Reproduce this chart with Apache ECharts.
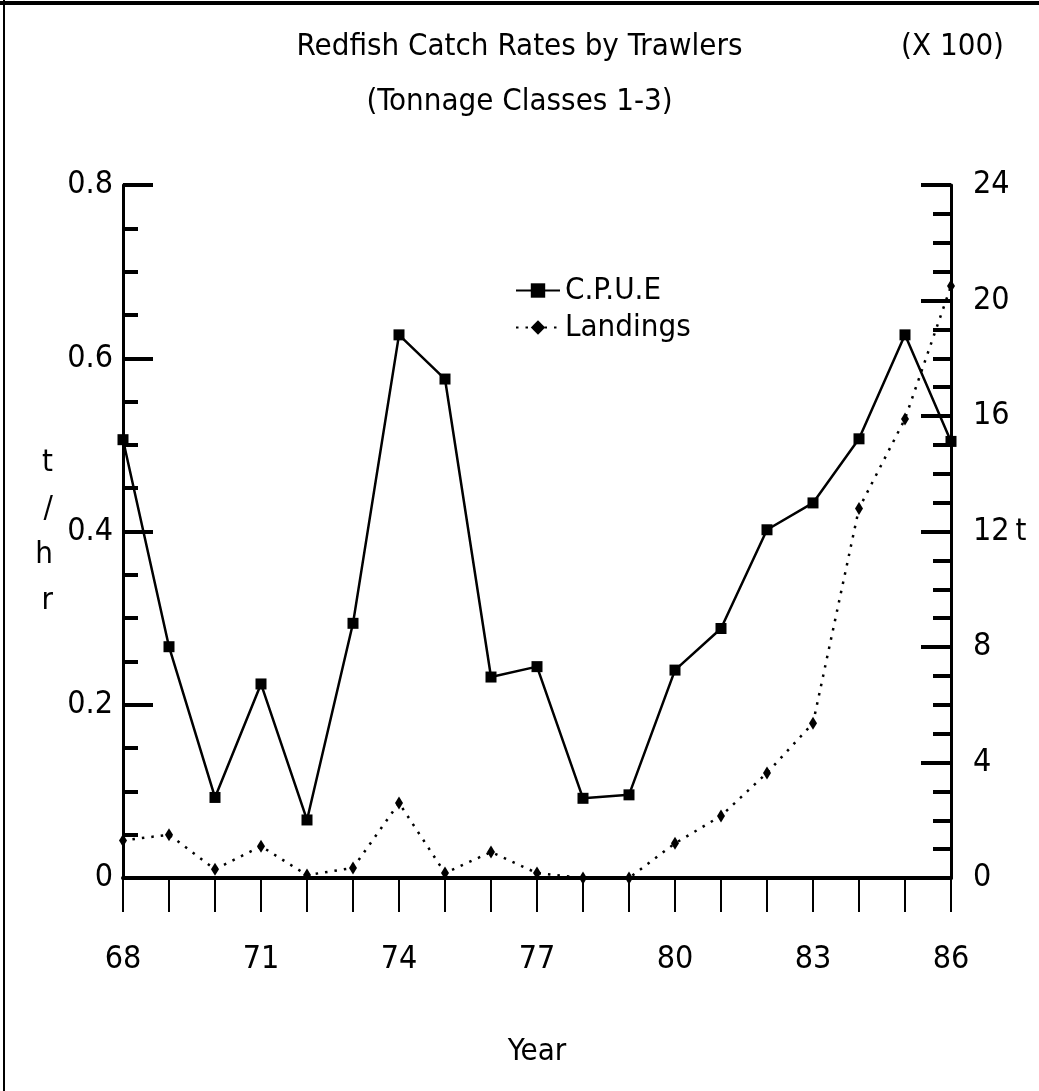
<!DOCTYPE html>
<html>
<head>
<meta charset="utf-8">
<script src="https://cdn.jsdelivr.net/npm/echarts@6/dist/echarts.min.js"></script>
<style>
html,body{margin:0;padding:0;background:#fff;}
#chart{width:1039px;height:1091px;}
</style>
</head>
<body>
<div id="chart"></div>
<script>
const years = [68,69,70,71,72,73,74,75,76,77,78,79,80,81,82,83,84,85,86];
const cpue = [0.506,0.267,0.093,0.224,0.067,0.294,0.627,0.576,0.232,0.244,0.092,0.096,0.240,0.288,0.402,0.433,0.507,0.627,0.504];
const landings = [1.3,1.5,0.3,1.1,0.1,0.35,2.6,0.17,0.9,0.17,0.0,0.0,1.2,2.15,3.64,5.36,12.8,15.9,20.5];
const xLabelYears = [68,71,74,77,80,83,86];

const FONT = "'DejaVu Sans Condensed','Liberation Sans Narrow','Liberation Sans',sans-serif";

const chart = echarts.init(document.getElementById('chart'));
const option = {
  backgroundColor: '#ffffff',
  animation: false,
  title: [
    {text: 'Redfish Catch Rates by Trawlers', left: 'center', top: 26,
     textStyle: {fontFamily: FONT, fontSize: 31, fontWeight: 'normal', color: '#000'}},
    {text: '(Tonnage Classes 1-3)', left: 'center', top: 81,
     textStyle: {fontFamily: FONT, fontSize: 31, fontWeight: 'normal', color: '#000'}},
    {text: '(X 100)', right: 30, top: 26,
     textStyle: {fontFamily: FONT, fontSize: 31, fontWeight: 'normal', color: '#000'}}
  ],
  legend: {
    orient: 'vertical', left: 510, top: 270, itemGap: 6,
    itemWidth: 44, itemHeight: 18,
    textStyle: {fontFamily: FONT, fontSize: 31, color: '#000'},
    data: ['C.P.U.E', 'Landings']
  },
  grid: {left: 123, right: 88, top: 185, bottom: 213, containLabel: false},
  xAxis: {
    type: 'value', min: 68, max: 86, interval: 1,
    name: 'Year', nameLocation: 'middle', nameGap: 158,
    nameTextStyle: {fontFamily: FONT, fontSize: 31, color: '#000'},
    axisLine: {lineStyle: {color: '#000', width: 4}},
    axisTick: {show: true, length: 34, lineStyle: {color: '#000', width: 2}},
    axisLabel: {
      margin: 66, fontFamily: FONT, fontSize: 32, color: '#000',
      formatter: function (v) { return xLabelYears.indexOf(v) >= 0 ? String(v) : ''; }
    },
    splitLine: {show: false}
  },
  yAxis: [
    {
      type: 'value', min: 0, max: 0.8, interval: 0.2,
      name: 't\n/\nh\nr', nameLocation: 'middle', nameGap: 70, nameRotate: 0,
      nameTextStyle: {fontFamily: FONT, fontSize: 31, color: '#000', lineHeight: 46},
      axisLine: {show: true, lineStyle: {color: '#000', width: 3}},
      axisTick: {show: true, inside: true, length: 30, lineStyle: {color: '#000', width: 4}},
      minorTick: {show: true, splitNumber: 4, length: 15, lineStyle: {color: '#000', width: 4}},
      axisLabel: {margin: 10, fontFamily: FONT, fontSize: 32, color: '#000'},
      splitLine: {show: false}
    },
    {
      type: 'value', min: 0, max: 24, interval: 4, position: 'right',
      name: 't', nameLocation: 'middle', nameGap: 64, nameRotate: 0,
      nameTextStyle: {fontFamily: FONT, fontSize: 31, color: '#000'},
      axisLine: {show: true, lineStyle: {color: '#000', width: 3}},
      axisTick: {show: true, inside: true, length: 30, lineStyle: {color: '#000', width: 4}},
      minorTick: {show: true, splitNumber: 4, length: 18, lineStyle: {color: '#000', width: 4}},
      axisLabel: {margin: 22, fontFamily: FONT, fontSize: 32, color: '#000'},
      splitLine: {show: false}
    }
  ],
  graphic: [
    {type: 'line', shape: {x1: 0, y1: 3, x2: 1039, y2: 3}, style: {stroke: '#000', lineWidth: 4}},
    {type: 'line', shape: {x1: 4, y1: 0, x2: 4, y2: 1091}, style: {stroke: '#000', lineWidth: 2}}
  ],
  series: [
    {
      name: 'C.P.U.E', type: 'line', yAxisIndex: 0,
      data: years.map((y, i) => [y, cpue[i]]),
      symbol: 'rect', symbolSize: 11,
      lineStyle: {color: '#000', width: 2.5},
      itemStyle: {color: '#000'}
    },
    {
      name: 'Landings', type: 'line', yAxisIndex: 1,
      data: years.map((y, i) => [y, landings[i]]),
      symbol: 'diamond', symbolSize: [8, 13],
      lineStyle: {color: '#000', width: 2.5, type: [2.5, 7]},
      itemStyle: {color: '#000'}
    }
  ]
};
chart.setOption(option);
</script>
</body>
</html>
